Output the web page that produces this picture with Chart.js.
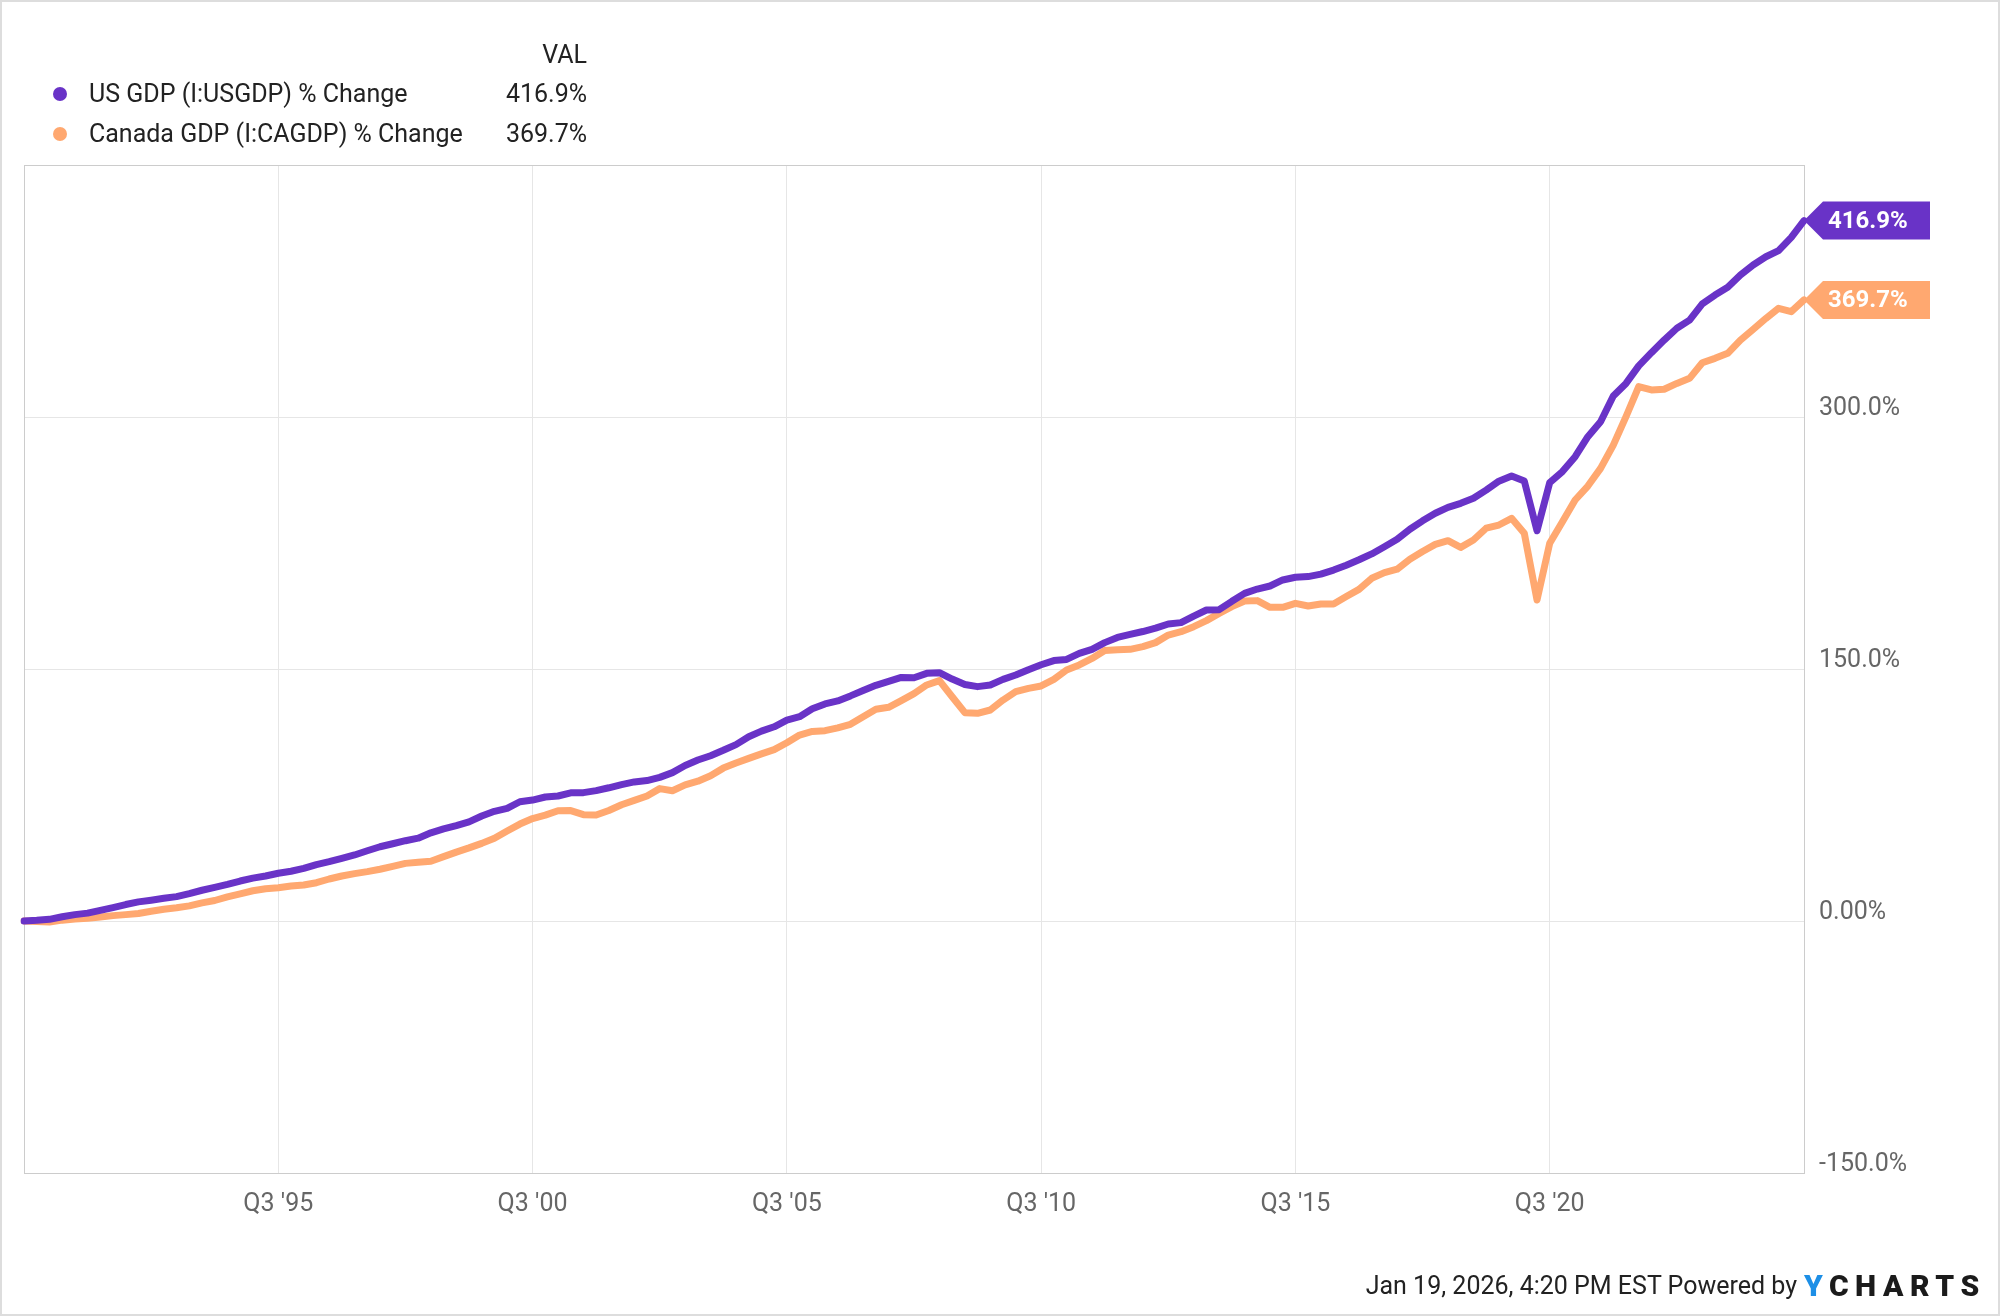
<!DOCTYPE html>
<html>
<head>
<meta charset="utf-8">
<script src="https://cdn.jsdelivr.net/npm/chart.js@4.4.1/dist/chart.umd.min.js"></script>
<style>
  html, body { margin: 0; padding: 0; background: #fff; }
  #wrap { position: relative; width: 2000px; height: 1316px; overflow: hidden; font-family: Roboto, sans-serif; color: #222; }
  #chart { position: absolute; left: 0; top: 0; }
  .lg { position: absolute; font-size: 25px; line-height: 30px; white-space: nowrap; }
  .dot { position: absolute; width: 14px; height: 14px; border-radius: 50%; }
  .r { text-align: right; }
  #foot { position: absolute; right: 203px; top: 1271px; font-size: 25px; line-height: 30px; color: #222; white-space: nowrap; }
  #logo { position: absolute; left: 1804px; top: 1268px; font-size: 30px; line-height: 36px; font-weight: 900; letter-spacing: 6.5px; color: #1b1b1b; white-space: nowrap; }
  #logo span { color: #1d8fe6; }
</style>
</head>
<body>
<div id="wrap">
  <canvas id="chart" width="2000" height="1316"></canvas>

  <div class="lg r" style="right:1413px; top:40px;">VAL</div>
  <div class="dot" style="left:53px; top:87px; background:#6933c7;"></div>
  <div class="lg" style="left:89px; top:79px;">US GDP (I:USGDP) % Change</div>
  <div class="lg r" style="right:1413px; top:79px;">416.9%</div>
  <div class="dot" style="left:53px; top:127px; background:#ffa870;"></div>
  <div class="lg" style="left:89px; top:119px;">Canada GDP (I:CAGDP) % Change</div>
  <div class="lg r" style="right:1413px; top:119px;">369.7%</div>

  <div id="foot">Jan 19, 2026, 4:20 PM EST Powered by</div>
  <div id="logo"><span>Y</span>CHARTS</div>
</div>

<script>
// ---- data (quarterly, Q3 '90 .. Q3 '25, % change since Q3 '90) ----
const quarters = [];
for (let y = 1990, q = 3; y < 2025 || (y === 2025 && q <= 3); ) {
  quarters.push(`Q${q} '${String(y).slice(-2)}`);
  q++; if (q > 4) { q = 1; y++; }
}

const usGdp = [
  0, 0.4, 1.0, 2.5, 3.8, 4.7, 6.3, 8.0, 9.8, 11.4,
  12.4, 13.5, 14.5, 16.3, 18.3, 20.0, 21.8, 23.8, 25.5, 26.8,
  28.4, 29.6, 31.3, 33.6, 35.3, 37.3, 39.3, 41.8, 44.2, 46.0,
  47.8, 49.3, 52.5, 54.8, 56.8, 59.0, 62.5, 65.3, 67.0, 71.0,
  72.0, 73.8, 74.4, 76.3, 76.4, 77.6, 79.3, 81.2, 82.8, 83.6,
  85.5, 88.3, 92.6, 95.8, 98.4, 101.6, 105.0, 109.7, 113.0, 115.6,
  119.6, 121.6, 126.3, 129.2, 131.0, 134.0, 137.2, 140.3, 142.6, 145.0,
  144.8, 147.4, 147.8, 144.0, 140.8, 139.5, 140.5, 143.8, 146.4, 149.6,
  152.5, 155.0, 155.7, 159.3, 161.7, 165.7, 168.8, 170.6, 172.3, 174.3,
  176.8, 177.6, 181.5, 185.1, 185.3, 190.3, 195.0, 197.6, 199.4, 203.0,
  204.6, 205.0, 206.5, 208.9, 211.8, 215.0, 218.5, 222.8, 227.2, 233.2,
  238.2, 242.7, 246.2, 248.6, 251.6, 256.5, 261.8, 264.9, 261.9, 232.3,
  260.9, 267.5, 276.4, 288.3, 297.2, 312.5, 320.0, 330.4, 338.3, 345.8,
  352.8, 357.7, 367.3, 372.6, 377.2, 384.5, 390.5, 395.4, 399.0, 406.9,
  416.9
];

const caGdp = [
  0, -0.3, -0.6, 0.5, 1.2, 1.6, 2.4, 3.2, 3.8, 4.5,
  5.8, 7.0, 7.9, 9.0, 10.8, 12.2, 14.4, 16.2, 18.0, 19.2,
  19.8, 20.8, 21.4, 22.8, 25.0, 26.8, 28.2, 29.4, 30.8, 32.5,
  34.3, 35.0, 35.6, 38.3, 41.0, 43.5, 46.2, 49.3, 53.6, 57.7,
  61.0, 63.0, 65.6, 65.7, 63.3, 63.1, 65.8, 69.2, 71.8, 74.4,
  78.8, 77.5, 81.0, 83.2, 86.5, 91.0, 94.0, 96.8, 99.5, 102.0,
  106.1, 110.7, 112.8, 113.3, 115.0, 117.1, 121.6, 126.0, 127.2, 131.2,
  135.3, 140.5, 143.1, 133.5, 124.0, 123.6, 125.6, 131.5, 136.5, 138.5,
  139.9, 143.8, 149.4, 152.4, 156.3, 161.0, 161.5, 161.7, 163.3, 165.7,
  170.2, 172.2, 175.2, 178.8, 183.1, 187.1, 190.5, 190.7, 186.7, 186.7,
  189.1, 187.5, 188.7, 188.7, 193.1, 197.4, 204.0, 207.4, 209.4, 215.3,
  219.9, 224.2, 226.4, 222.4, 226.8, 233.8, 235.7, 239.7, 230.8, 191.1,
  224.8, 237.7, 250.6, 258.9, 269.4, 283.3, 300.2, 318.1, 316.1, 316.5,
  320.0, 323.0, 332.3, 334.9, 337.9, 345.8, 352.2, 358.7, 364.7, 362.7,
  369.7
];

const xTickLabels = ["Q3 '95", "Q3 '00", "Q3 '05", "Q3 '10", "Q3 '15", "Q3 '20"];
const yTicks      = [-150, 0, 150, 300, 450];
const yTickLabels = ['-150.0%', '0.00%', '150.0%', '300.0%', ''];

const US_COLOR = '#6933c7';
const CA_COLOR = '#ffa870';

// plot frame (top + left edges) and outer image border
const framePlugin = {
  id: 'frame',
  beforeDatasetsDraw(chart) {
    const { ctx, chartArea: a } = chart;
    ctx.save();
    ctx.strokeStyle = '#cccccc';
    ctx.lineWidth = 1;
    ctx.strokeRect(a.left + 0.5, a.top + 0.5, a.right - a.left, a.bottom - a.top);
    ctx.restore();
  },
  afterDraw(chart) {
    const ctx = chart.ctx;
    ctx.save();
    ctx.strokeStyle = '#dddddd';
    ctx.lineWidth = 2;
    ctx.strokeRect(1, 1, chart.width - 2, chart.height - 2);
    ctx.restore();
  }
};

// last-value tags at the right edge
const endTagPlugin = {
  id: 'endTag',
  afterDatasetsDraw(chart) {
    const ctx = chart.ctx;
    chart.data.datasets.forEach((ds, i) => {
      const meta = chart.getDatasetMeta(i);
      const pt = meta.data[meta.data.length - 1];
      if (!pt) return;
      const x = chart.chartArea.right, y = pt.y;
      const h = 38;
      ctx.save();
      ctx.fillStyle = ds.borderColor;
      ctx.beginPath();
      ctx.moveTo(x, y);
      ctx.lineTo(x + 19, y - h / 2);
      ctx.lineTo(x + 126, y - h / 2);
      ctx.lineTo(x + 126, y + h / 2);
      ctx.lineTo(x + 19, y + h / 2);
      ctx.closePath();
      ctx.fill();
      ctx.fillStyle = '#fff';
      ctx.font = 'bold 24px Roboto';
      ctx.textBaseline = 'middle';
      ctx.textAlign = 'left';
      const v = ds.data[ds.data.length - 1];
      ctx.fillText(v.toFixed(1) + '%', x + 24, y + 1);
      ctx.restore();
    });
  }
};

new Chart(document.getElementById('chart'), {
  type: 'line',
  data: {
    labels: quarters,
    datasets: [
      { label: 'US GDP (I:USGDP) % Change', data: usGdp, borderColor: US_COLOR, backgroundColor: US_COLOR },
      { label: 'Canada GDP (I:CAGDP) % Change', data: caGdp, borderColor: CA_COLOR, backgroundColor: CA_COLOR }
    ]
  },
  options: {
    responsive: false,
    animation: false,
    devicePixelRatio: 1,
    layout: { padding: { left: 24, top: 165, right: 0, bottom: 0 } },
    elements: {
      point: { radius: 0, hoverRadius: 0 },
      line: { borderWidth: 7, tension: 0, borderJoinStyle: 'round', borderCapStyle: 'round' }
    },
    plugins: { legend: { display: false }, tooltip: { enabled: false } },
    scales: {
      x: {
        type: 'category',
        offset: false,
        grid: { color: '#e6e6e6', lineWidth: 1, drawTicks: false },
        border: { display: true, color: '#cccccc', width: 1 },
        afterBuildTicks: (scale) => {
          scale.ticks = scale.ticks.filter(t => xTickLabels.includes(quarters[t.value]));
        },
        ticks: {
          autoSkip: false, maxRotation: 0, minRotation: 0,
          color: '#666', font: { family: 'Roboto', size: 25 }, padding: 17,
          callback: (v) => quarters[v]
        },
        afterFit: (scale) => { scale.height = 143; }
      },
      y: {
        position: 'right',
        min: -150, max: 450,
        grid: { color: '#e6e6e6', lineWidth: 1, drawTicks: false },
        border: { display: true, color: '#cccccc', width: 1 },
        afterBuildTicks: (scale) => { scale.ticks = yTicks.map(v => ({ value: v })); },
        ticks: {
          color: '#666', font: { family: 'Roboto', size: 25 }, padding: 15, labelOffset: -8,
          callback: (v) => yTickLabels[yTicks.indexOf(v)] ?? ''
        },
        afterFit: (scale) => { scale.width = 196; }
      }
    }
  },
  plugins: [framePlugin, endTagPlugin]
});
</script>
</body>
</html>
